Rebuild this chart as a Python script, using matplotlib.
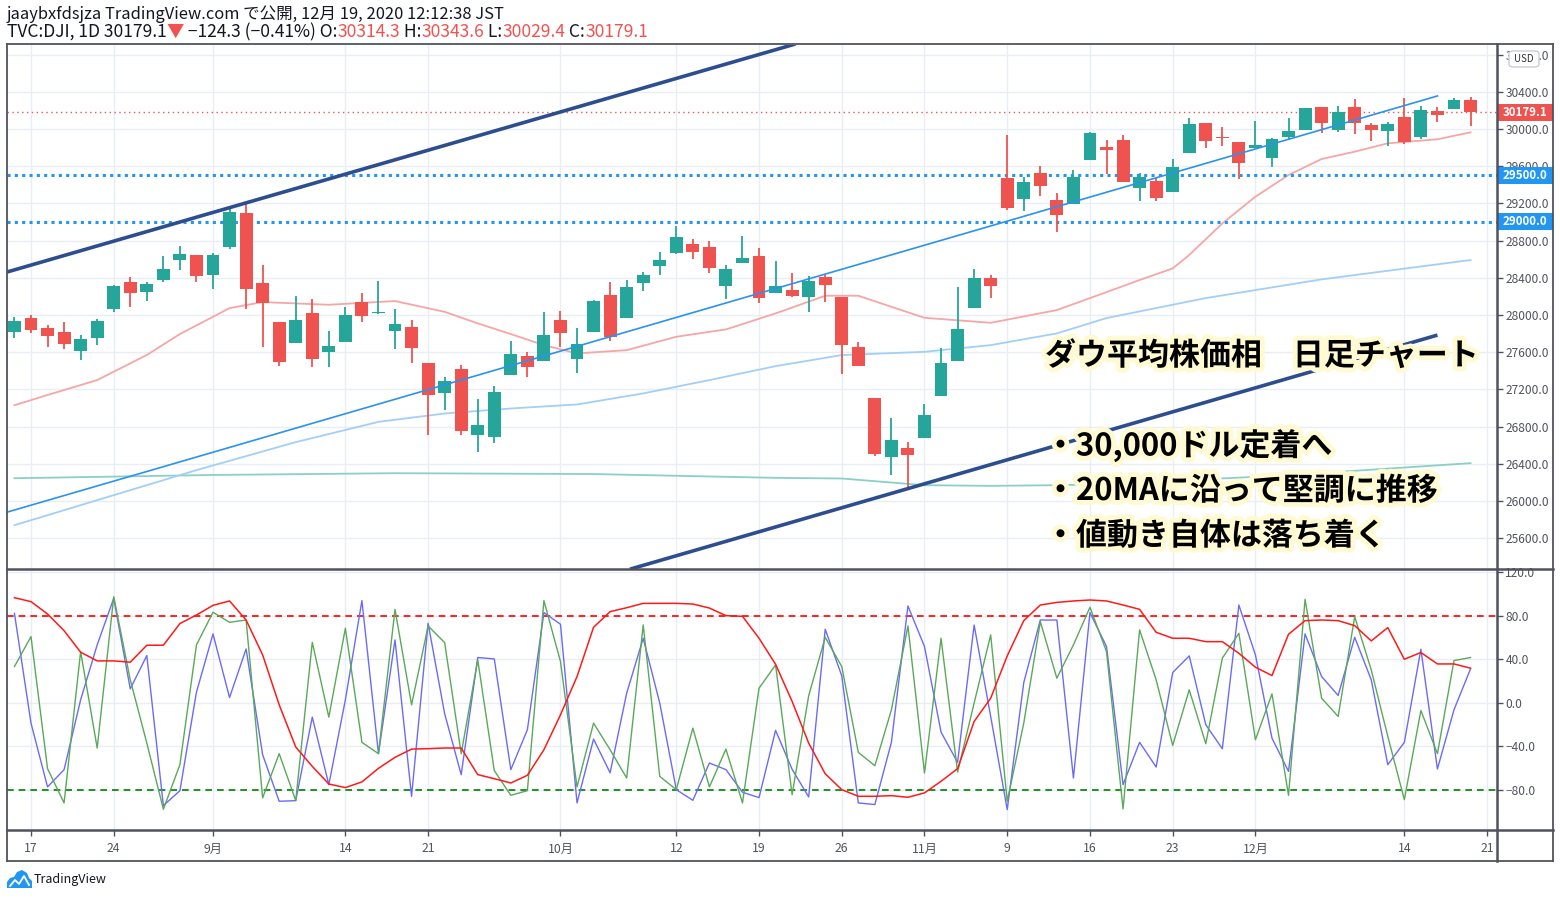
import matplotlib
matplotlib.use("Agg")
import matplotlib.pyplot as plt
import matplotlib.patheffects as pe
from matplotlib.patches import Rectangle, FancyBboxPatch, Polygon
from matplotlib.lines import Line2D
from matplotlib.transforms import blended_transform_factory
import numpy as np

plt.rcParams['font.family'] = ['Noto Sans CJK JP', 'DejaVu Sans']
plt.rcParams['axes.unicode_minus'] = True

# ---------------- data ----------------
opens = [27820, 27967, 27859, 27816, 27615, 27755, 28067, 28354, 28250, 28379,
         28594, 28644, 28433, 28734, 29096, 28343, 27924, 27701, 28020, 27604,
         27712, 28139, 28020, 27830, 27870, 27483, 27163, 27418, 26712, 26690,
         27357, 27558, 27508, 27945, 27529, 27820, 28214, 27970, 28347, 28530,
         28670, 28763, 28730, 28315, 28562, 28634, 28239, 28268, 28193, 28408,
         28193, 27655, 27106, 26475, 26568, 26679, 27131, 27508, 28078, 28397,
         29473, 29250, 29527, 29236, 29197, 29670, 29806, 29882, 29369, 29441,
         29326, 29745, 30065, 29914, 29860, 29799, 29692, 29917, 29993, 30237,
         29993, 30237, 30043, 29982, 30129, 29917, 30194, 30219, 30314.3]
highs = [27981, 27999, 27891, 27924, 27784, 27956, 28322, 28408, 28354, 28634,
         28741, 28644, 28666, 29168, 29204, 28537, 27924, 28203, 28171, 27827,
         28085, 28236, 28365, 28064, 27945, 27483, 27332, 27461, 27095, 27235,
         27719, 27601, 28031, 28042, 27859, 28160, 28354, 28375, 28462, 28677,
         28956, 28817, 28795, 28537, 28849, 28720, 28580, 28451, 28419, 28440,
         28193, 27709, 27106, 26891, 26633, 27042, 27644, 28300, 28494, 28429,
         29935, 29484, 29602, 29311, 29559, 29968, 29882, 29935, 29527, 29473,
         29677, 30118, 30065, 30021, 29860, 30086, 29903, 30118, 30226, 30237,
         30247, 30323, 30065, 30075, 30333, 30247, 30237, 30333, 30343.6]
lows = [27755, 27809, 27658, 27637, 27518, 27680, 28035, 28089, 28153, 28358,
        28487, 28358, 28282, 28713, 28067, 27658, 27454, 27701, 27443, 27443,
        27712, 27927, 28010, 27637, 27486, 26708, 26977, 26708, 26529, 26626,
        27357, 27336, 27508, 27658, 27379, 27820, 27723, 27970, 28261, 28433,
        28659, 28605, 28454, 28175, 28562, 28132, 28239, 28193, 28035, 28143,
        27368, 27454, 26486, 26281, 26131, 26679, 27131, 27508, 28078, 28186,
        29132, 29121, 29283, 28895, 29197, 29670, 29516, 29433, 29229, 29229,
        29326, 29745, 29799, 29821, 29466, 29799, 29595, 29882, 29993, 29961,
        29971, 29950, 29874, 29821, 29842, 29896, 30079, 30219, 30029.4]
closes = [27934, 27841, 27777, 27691, 27741, 27934, 28311, 28239, 28332, 28494,
          28655, 28422, 28644, 29107, 28282, 28132, 27497, 27945, 27529, 27665,
          27999, 27992, 28031, 27902, 27648, 27142, 27289, 26755, 26816, 27171,
          27579, 27443, 27784, 27809, 27687, 28150, 27766, 28300, 28429, 28591,
          28838, 28680, 28508, 28494, 28612, 28185, 28311, 28204, 28365, 28325,
          27680, 27454, 26507, 26654, 26497, 26923, 27483, 27848, 28397, 28315,
          29154, 29430, 29390, 29078, 29484, 29957, 29778, 29433, 29484, 29261,
          29591, 30054, 29874, 29907, 29638, 29828, 29892, 29978, 30226, 30068,
          30183, 30068, 29993, 30054, 29864, 30204, 30154, 30312, 30179.1]

# moving averages (candle index, value)
ma20_idx = [0, 2, 5, 8, 10, 13, 15, 19, 23, 26, 28, 30, 32, 34, 37, 40, 43, 46,
            49, 51, 53, 55, 59, 63, 66, 68, 70, 71, 73, 75, 77, 79, 81, 83, 86, 88]
ma20_val = [27030, 27140, 27300, 27570, 27795, 28074, 28139, 28110, 28150, 28034,
            27910, 27795, 27676, 27587, 27622, 27766, 27845, 28017, 28207, 28207,
            28088, 27970, 27916, 28053, 28246, 28376, 28501, 28645, 28985, 29272,
            29505, 29677, 29756, 29846, 29889, 29964]
ma50_idx = [0, 5, 11, 17, 22, 26, 30, 34, 38, 42, 46, 50, 55, 59, 63, 66, 72, 79, 88]
ma50_val = [25740, 26009, 26332, 26633, 26851, 26941, 26995, 27038, 27157, 27300,
            27450, 27569, 27604, 27676, 27802, 27967, 28182, 28383, 28591]
ma200_idx = [0, 12, 23, 35, 46, 50, 55, 59, 63, 66, 77, 88]
ma200_val = [26245, 26280, 26299, 26290, 26249, 26242, 26170, 26163, 26170, 26181,
             26278, 26407]

# drawn lines (candle index, price)
trend_idx = [-0.45, 86.0]
trend_val = [25880, 30355]
chan_up_idx = [-0.45, 47.2]
chan_up_val = [28462, 30914]
chan_lo_idx = [37.2, 86.0]
chan_lo_val = [25267, 27784]
levels = [29500, 29000]
last_close = 30179.1

# oscillator pane
osc_red = [96.8, 93.2, 81.8, 66.5, 46.7, 38.7, 38.7, 37.5, 53.1, 53.1,
           73.0, 80.9, 89.8, 93.8, 76.3, 44.2, -1.7, -40.5, -58.3, -74.5,
           -77.8, -72.6, -60.1, -50.0, -42.4, -42.0, -41.4, -41.4, -65.9, -69.6,
           -73.6, -66.5, -43.0, -10.9, 24.3, 69.6, 84.0, 87.6, 91.6, 91.6,
           91.6, 91.0, 87.3, 80.3, 79.7, 59.5, 35.6, 1.4, -36.9, -65.1,
           -79.7, -85.8, -85.8, -85.2, -86.7, -82.7, -72.0, -60.4, -17.0, 4.4,
           43.3, 75.7, 90.1, 92.5, 93.8, 94.7, 93.8, 90.1, 86.1, 65.0,
           59.5, 59.5, 56.4, 56.4, 45.7, 32.9, 25.2, 63.2, 75.7, 76.3,
           75.7, 71.1, 57.1, 69.3, 40.2, 46.4, 35.9, 35.9, 32.0]
osc_blue = [82.4, -18.5, -77.2, -61.3, 2.9, 53.4, 96.2, 13.0, 43.6, -94.4,
            -80.6, 9.9, 63.5, 5.0, 49.7, -47.6, -90.4, -89.8, -13.0, -75.1,
            2.9, 94.1, -46.6, 58.0, -85.8, 73.3, -9.9, -65.9, 41.8, 40.5,
            -61.3, -24.6, 83.1, 72.4, -91.9, -33.2, -64.2, 9.0, 59.5, -0.1,
            -79.7, -89.5, -55.2, -61.3, -82.1, -87.0, -25.2, -61.0, -86.4, 67.8,
            24.9, -91.9, -93.4, -36.2, 89.2, 51.9, -26.8, -54.6, 71.7, -12.4,
            -98.0, 18.8, 76.3, 76.3, -69.0, 83.1, 51.9, -75.1, -36.2, -58.9,
            28.0, 43.3, -20.0, -42.1, 90.1, 44.2, -32.3, -62.9, 63.5, 24.3,
            6.9, 60.4, 21.3, -56.7, -36.2, 49.4, -60.7, -6.3, 31.4]
osc_green = [33.5, 61.0, -60.4, -91.9, 47.3, -41.4, 97.7, 21.3, -36.9, -97.7,
             -56.7, 53.4, 83.4, 74.2, 76.3, -87.3, -46.6, -89.8, 55.8, -13.0,
             68.7, -36.2, -46.6, 86.1, -1.7, 70.8, 55.5, -46.6, 39.6, -62.2,
             -84.9, -80.6, 94.1, 38.1, -77.2, -18.5, -43.0, -69.0, 71.7, -67.5,
             -79.7, -23.1, -77.2, -42.4, -91.9, 13.6, 35.0, -84.3, 6.6, 60.4,
             33.5, -45.4, -57.7, -6.3, 70.8, -64.4, 59.5, -63.5, -0.1, 62.6,
             -90.4, -18.5, 74.8, 22.8, 53.4, 88.0, 47.3, -97.4, 67.2, 21.3,
             -39.0, 12.1, -37.5, 41.2, 64.1, -33.8, 8.4, -84.9, 95.3, 4.4,
             -12.4, 79.4, 30.4, -30.7, -88.9, -6.9, -46.6, 39.0, 41.8]
osc_upper, osc_lower = 80, -80

# time axis
date_tick_idx = [1, 6, 12, 20, 25, 33, 40, 45, 50, 55, 60, 65, 70, 75, 84, 89]
date_tick_lbl = ["17", "24", "9月", "14", "21", "10月", "12", "19", "26", "11月",
                 "9", "16", "23", "12月", "14", "21"]
price_ticks = [25600, 26000, 26400, 26800, 27200, 27600, 28000, 28400, 28800,
               29200, 29600, 30000, 30400, 30800]
osc_ticks = [-80, -40, 0, 40, 80, 120]

header1 = "jaaybxfdsjza TradingView.com で公開, 12月 19, 2020 12:12:38 JST"
header2 = [("TVC:DJI, 1D 30179.1", 'd'), ("▼", 'r'), (" \u2212124.3 (\u22120.41%) O:", 'd'),
           ("30314.3", 'r'), (" H:", 'd'), ("30343.6", 'r'), (" L:", 'd'),
           ("30029.4", 'r'), (" C:", 'd'), ("30179.1", 'r')]
notes_title = "ダウ平均株価相　日足チャート"
notes = ["・30,000ドル定着へ", "・20MAに沿って堅調に推移", "・値動き自体は落ち着く"]

# ---------------- figure ----------------
W, H = 1560, 898
fig = plt.figure(figsize=(W / 100, H / 100), dpi=100)
fig.patch.set_facecolor('white')


def fx(px):
    return px / W


def fy(py):
    return 1 - py / H


UP, DN = '#26A69A', '#EF5350'
GRID = '#E8EEF4'
FRAME = '#50535E'
TXT = '#50535E'
DARK = '#131722'

L, R = 7, 1497
YTOP, YMID, YBOT = 45, 569, 830
ax = fig.add_axes([fx(L), fy(YMID), fx(R) - fx(L), fy(YTOP) - fy(YMID)])
ax2 = fig.add_axes([fx(L), fy(YBOT), fx(R) - fx(L), fy(YMID) - fy(YBOT)])

xlim = (-0.45, 89.6)
pmin, pmax = 25269, 30903
for a in (ax, ax2):
    a.set_xlim(*xlim)
    for s in a.spines.values():
        s.set_visible(False)
    a.set_xticks(date_tick_idx)
    a.grid(True, color=GRID, lw=1)
    a.set_axisbelow(True)
    a.yaxis.tick_right()
    a.tick_params(axis='y', length=4, width=1, color=FRAME, labelsize=8.6,
                  labelcolor=TXT, pad=2)

ax.set_ylim(pmin, pmax)
ax.set_yticks(price_ticks)
ax.set_yticklabels([f"{t:.1f}" for t in price_ticks])
ax.tick_params(axis='x', length=0, labelbottom=False)

# candles
x = np.arange(len(closes))
o = np.array(opens, float)
c = np.array(closes, float)
hi = np.array(highs, float)
lo = np.array(lows, float)
cols = [UP if cc >= oo else DN for oo, cc in zip(o, c)]
ax.vlines(x, lo, hi, colors=cols, lw=1.3, zorder=3)
body = np.maximum(np.abs(c - o), 12)
ax.bar(x, body, bottom=np.minimum(o, c), width=0.78, color=cols, zorder=3.1,
       linewidth=0)

# moving averages
ax.plot(ma200_idx, ma200_val, color='#8BD0C7', lw=1.3, zorder=2)
ax.plot(ma50_idx, ma50_val, color='#A3CFF6', lw=1.3, zorder=2)
ax.plot(ma20_idx, ma20_val, color='#F6A6A6', lw=1.3, zorder=2)

# levels
for lv in levels:
    ax.axhline(lv, color='#2196F3', lw=2.2, ls=(0, (1, 1.4)), zorder=2.5)
ax.axhline(last_close, color=DN, lw=1.0, ls=(0, (1, 2.5)), zorder=2.5)

# trend / channel lines
ax.plot(trend_idx, trend_val, color='#2A93EE', lw=1.2, zorder=4)
ax.plot(chan_up_idx, chan_up_val, color='#2D4E8E', lw=2.6, zorder=4,
        solid_capstyle='butt')
ax.plot(chan_lo_idx, chan_lo_val, color='#2D4E8E', lw=2.6, zorder=4,
        solid_capstyle='butt')

# price tags on right scale
trans = blended_transform_factory(fig.transFigure, ax.transData)
unit = (pmax - pmin) / (YMID - YTOP)


def price_tag(price, text, color):
    h = 17 * unit
    ax.add_patch(Rectangle((fx(1497), price - h / 2), fx(1553) - fx(1497), h,
                           transform=trans, facecolor=color, edgecolor='none',
                           clip_on=False, zorder=20))
    ax.text(fx(1525), price, text, transform=trans, ha='center', va='center',
            color='white', fontsize=8.3, fontweight='bold', clip_on=False, zorder=21)


price_tag(last_close, f"{last_close:.1f}", DN)
for lv in levels:
    price_tag(lv, f"{lv:.1f}", '#2196F3')

# oscillator pane
ax2.set_ylim(-116.8, 123.2)
ax2.set_yticks(osc_ticks)
ax2.set_yticklabels([f"{v:.1f}".replace('-', '\u2212') for v in osc_ticks])
ax2.axhline(osc_upper, color='#FF0000', lw=1.2, ls=(0, (4, 3)), zorder=2)
ax2.axhline(osc_lower, color='#008000', lw=1.2, ls=(0, (4, 3)), zorder=2)
xo = np.arange(len(osc_red))
ax2.plot(xo, osc_blue, color='#6B6BF7', lw=1.0, zorder=3)
ax2.plot(xo, osc_green, color='#5BA85B', lw=1.0, zorder=3.1)
ax2.plot(xo, osc_red, color='#FF1A1A', lw=1.1, zorder=3.2)
ax2.set_xticklabels(date_tick_lbl)
ax2.tick_params(axis='x', length=4, width=1, color=FRAME, labelsize=8.8,
                labelcolor=TXT, pad=5)
ytl = ax2.yaxis.get_ticklines()
# colour the 80 / -80 tick marks like their guide lines
for tl, v in zip(ax2.yaxis.get_major_ticks(), osc_ticks):
    if v == osc_upper:
        tl.tick2line.set_color('#FF0000')
    elif v == osc_lower:
        tl.tick2line.set_color('#008000')


# frame lines
def fline(x0, y0, x1, y1, lw=1.3):
    fig.add_artist(Line2D([fx(x0), fx(x1)], [fy(y0), fy(y1)], color=FRAME,
                          lw=lw, transform=fig.transFigure, zorder=30))


fline(7, 44, 1553, 44)
fline(7, 44, 7, 861)
fline(1553, 44, 1553, 861)
fline(7, 861, 1553, 861)
fline(7, 569, 1553, 569, 1.8)
fline(7, 830, 1553, 830, 1.8)
fline(1497, 44, 1497, 861, 1.8)

# USD box
fig.add_artist(FancyBboxPatch((fx(1509), fy(67)), fx(1539) - fx(1509), fy(51) - fy(67),
                              boxstyle='round,pad=0,rounding_size=0.003',
                              transform=fig.transFigure, fc='white', ec='#C9CDD6',
                              lw=1, zorder=25))
fig.text(fx(1524), fy(59), "USD", ha='center', va='center', fontsize=7,
         color='#333333', zorder=26)

# header
renderer = fig.canvas.get_renderer()


def fit_fs(s, target, fs0=11, **kw):
    t = fig.text(0, 0, s, fontsize=fs0, **kw)
    w = t.get_window_extent(renderer).width
    t.remove()
    return fs0 * target / w


fs1 = fit_fs(header1, 496)
fig.text(fx(7), fy(14), header1, fontsize=fs1, color=DARK, va='center', ha='left')
full2 = "".join(p for p, _ in header2)
fs2 = fit_fs(full2, 644)
xcur = fx(7)
for s, k in header2:
    t = fig.text(xcur, fy(41), s, fontsize=fs2, color=DN if k == 'r' else DARK,
                 va='bottom', ha='left')
    xcur += t.get_window_extent(renderer).width / W

# annotation texts
stroke = [pe.withStroke(linewidth=7, foreground='#FFFAD2')]
fsn = fit_fs(notes_title, 433, fontweight='bold')
fig.text(fx(1045), fy(356), notes_title, fontsize=fsn, fontweight='bold',
         color='black', va='center', ha='left', path_effects=stroke, zorder=40)
for k, s in enumerate(notes):
    fig.text(fx(1045), fy(446 + 45 * k), s, fontsize=fsn, fontweight='bold',
             color='black', va='center', ha='left', path_effects=stroke, zorder=40)

# TradingView logo
logo = [(7, 888), (7, 882), (10, 878), (14, 877), (17, 872), (22, 870), (27, 873),
        (29, 878), (32, 881), (32, 888)]
fig.add_artist(Polygon([(fx(a), fy(b)) for a, b in logo], closed=True,
                       transform=fig.transFigure, fc='#2196F3', ec='none'))
zz = [(10, 886), (15, 880), (19, 884), (24, 876), (29, 885)]
fig.add_artist(Line2D([fx(a) for a, b in zz], [fy(b) for a, b in zz], color='white',
                      lw=1.3, transform=fig.transFigure))
fig.text(fx(34), fy(880), "TradingView", fontsize=9, color=DARK, va='center',
         ha='left')

fig.savefig("out.png", dpi=100, facecolor='white')
